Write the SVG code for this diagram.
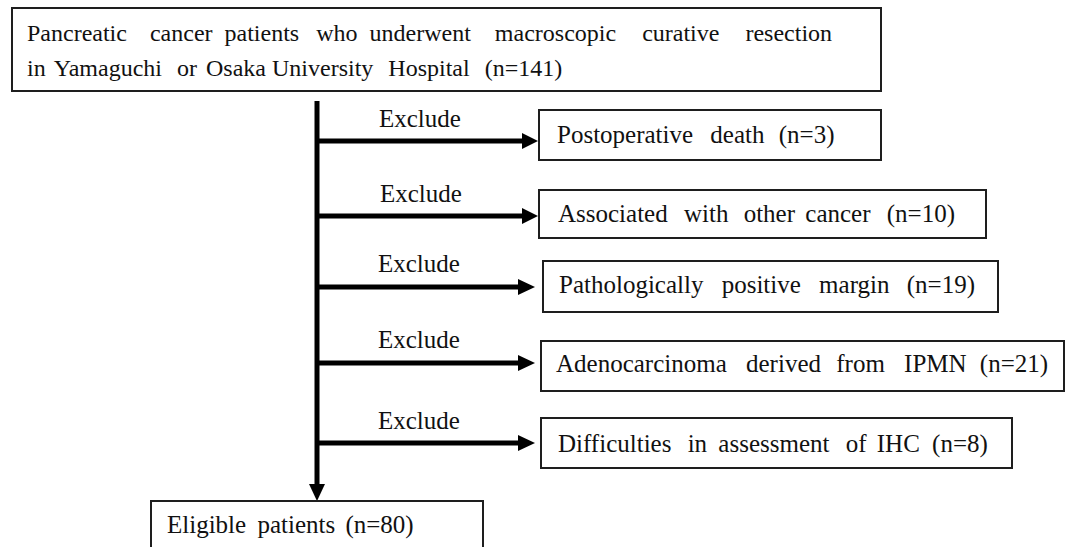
<svg xmlns="http://www.w3.org/2000/svg" width="1066" height="547" viewBox="0 0 1066 547">
<style>
  .box { fill: #ffffff; stroke: #1e1e1e; stroke-width: 2; }
  .t { font-family: "Liberation Serif", Tinos, "Times New Roman", Times, serif; font-size: 25px; fill: #111111; }
  .tt { font-family: "Liberation Serif", Tinos, "Times New Roman", Times, serif; font-size: 24px; fill: #111111; }
  .line { stroke: #000000; stroke-width: 5; fill: none; }
  .head { fill: #000000; }
</style>
<rect x="0" y="0" width="1066" height="547" fill="#ffffff"/>
<g id="connectors">
  <line class="line" x1="317" y1="101" x2="317" y2="486"/>
  <polygon class="head" points="309,484 325,484 317,501"/>
  <line class="line" x1="317" y1="141" x2="524" y2="141"/>
  <polygon class="head" points="522,133 522,149 538,141"/>
  <line class="line" x1="317" y1="216" x2="524" y2="216"/>
  <polygon class="head" points="522,208 522,224 538,216"/>
  <line class="line" x1="317" y1="287" x2="520" y2="287"/>
  <polygon class="head" points="518,279 518,295 535,287"/>
  <line class="line" x1="317" y1="363" x2="520" y2="363"/>
  <polygon class="head" points="518,355 518,371 535,363"/>
  <line class="line" x1="317" y1="443" x2="520" y2="443"/>
  <polygon class="head" points="518,435 518,451 535,443"/>
  <text class="t" x="379" y="127">Exclude</text>
  <text class="t" x="380" y="202">Exclude</text>
  <text class="t" x="378" y="272">Exclude</text>
  <text class="t" x="378" y="348">Exclude</text>
  <text class="t" x="378" y="429">Exclude</text>
</g>
<g id="node-start">
  <rect class="box" x="12" y="8" width="869" height="83"/>
  <text class="tt" x="27" y="41">Pancreatic<tspan dx="17"> cancer</tspan><tspan dx="6"> patients</tspan><tspan dx="11"> who</tspan><tspan dx="6"> underwent</tspan><tspan dx="18"> macroscopic</tspan><tspan dx="20"> curative</tspan><tspan dx="20"> resection</tspan></text>
  <text class="tt" x="27" y="76">in<tspan dx="3"> Yamaguchi</tspan><tspan dx="9"> or</tspan><tspan dx="3"> Osaka</tspan><tspan dx="0"> University</tspan><tspan dx="9"> Hospital</tspan><tspan dx="9"> (n=141)</tspan></text>
</g>
<g id="node-death">
  <rect class="box" x="539" y="110" width="342" height="50"/>
  <text class="t" x="557" y="143">Postoperative<tspan dx="11"> death</tspan><tspan dx="8"> (n=3)</tspan></text>
</g>
<g id="node-other-cancer">
  <rect class="box" x="539" y="190" width="447" height="48"/>
  <text class="t" x="558" y="222">Associated<tspan dx="10"> with</tspan><tspan dx="9"> other</tspan><tspan dx="4"> cancer</tspan><tspan dx="10"> (n=10)</tspan></text>
</g>
<g id="node-margin">
  <rect class="box" x="543" y="261" width="455" height="51"/>
  <text class="t" x="559" y="293">Pathologically<tspan dx="12"> positive</tspan><tspan dx="12"> margin</tspan><tspan dx="11"> (n=19)</tspan></text>
</g>
<g id="node-ipmn">
  <rect class="box" x="541" y="341" width="523" height="50"/>
  <text class="t" x="556" y="372">Adenocarcinoma<tspan dx="13"> derived</tspan><tspan dx="9"> from</tspan><tspan dx="13"> IPMN</tspan><tspan dx="7"> (n=21)</tspan></text>
</g>
<g id="node-ihc">
  <rect class="box" x="541" y="418" width="471" height="50"/>
  <text class="t" x="558" y="452">Difficulties<tspan dx="10"> in</tspan><tspan dx="5"> assessment</tspan><tspan dx="10"> of</tspan><tspan dx="4"> IHC</tspan><tspan dx="6"> (n=8)</tspan></text>
</g>
<g id="node-eligible">
  <rect class="box" x="151" y="501" width="332" height="60"/>
  <text class="t" x="167" y="533">Eligible<tspan dx="5"> patients</tspan><tspan dx="4"> (n=80)</tspan></text>
</g>
</svg>
